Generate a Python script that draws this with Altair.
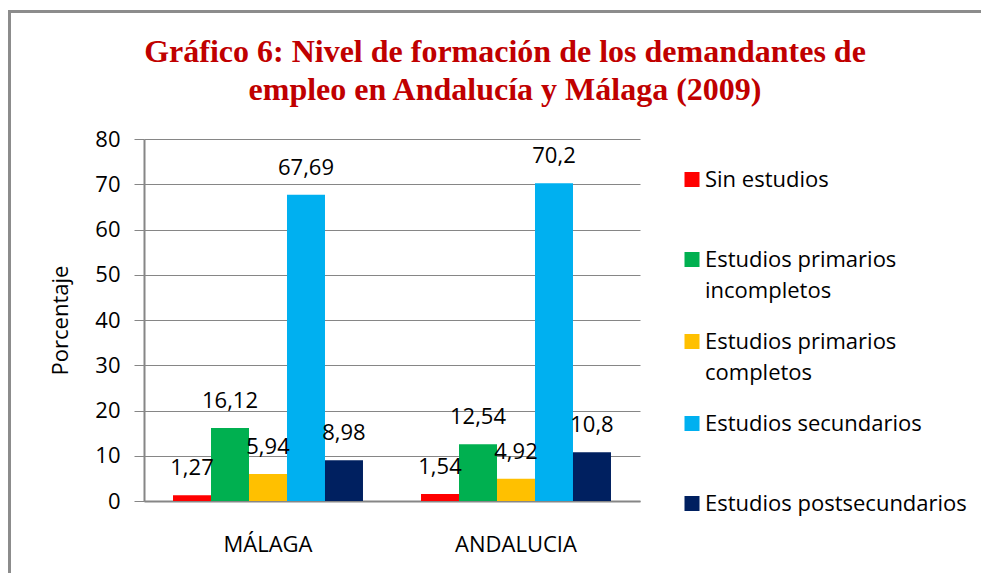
import altair as alt
import pandas as pd

# ---- data ----
regions = ["MÁLAGA", "ANDALUCIA"]
levels = [
    "Sin estudios",
    "Estudios primarios incompletos",
    "Estudios primarios completos",
    "Estudios secundarios",
    "Estudios postsecundarios",
]
malaga = [1.27, 16.12, 5.94, 67.69, 8.98]
andalucia = [1.54, 12.54, 4.92, 70.2, 10.8]
colors = ["#FF0000", "#00B050", "#FFC000", "#00B0F0", "#002060"]
y_ticks = [0, 10, 20, 30, 40, 50, 60, 70, 80]
title_lines = [
    "Gráfico 6: Nivel de formación de los demandantes de",
    "empleo en Andalucía y Málaga (2009)",
]

rows = []
for region, vals in zip(regions, [malaga, andalucia]):
    for lvl, v in zip(levels, vals):
        rows.append({"region": region, "level": lvl, "value": v,
                     "label": f"{v:g}".replace(".", ",")})
df = pd.DataFrame(rows)

FONT = "Open Sans"
FS = 22
GRAY = "#868686"
W, H = 496, 362

x_enc = alt.X(
    "region:N", sort=regions,
    scale=alt.Scale(paddingInner=0.234, paddingOuter=0.117),
    axis=alt.Axis(title=None, labelFont=FONT, labelFontSize=FS, labelColor="black",
                  labelAngle=0, labelPadding=33, ticks=False, tickSize=0,
                  domainColor=GRAY, domainWidth=2, grid=False),
)
xoff = alt.XOffset("level:N", sort=levels, scale=alt.Scale(paddingInner=0, paddingOuter=0))
y_enc = alt.Y(
    "value:Q",
    scale=alt.Scale(domain=[0, 80], nice=False),
    axis=alt.Axis(values=y_ticks, title="Porcentaje", titleFont=FONT, titleFontSize=FS,
                  titleFontWeight="normal", titleColor="black", titlePadding=22,
                  labelFont=FONT, labelFontSize=FS, labelColor="black", labelPadding=14,
                  tickSize=10, tickColor=GRAY, tickWidth=1,
                  domainColor=GRAY, domainWidth=2, gridColor=GRAY, gridWidth=1),
)

label_expr = (
    "datum.label == 'Estudios primarios incompletos' ? ['Estudios primarios', 'incompletos'] : "
    "datum.label == 'Estudios primarios completos' ? ['Estudios primarios', 'completos'] : datum.label"
)

bars = alt.Chart(df).mark_bar(size=38).encode(
    x=x_enc, xOffset=xoff, y=y_enc,
    color=alt.Color("level:N", sort=levels,
                    scale=alt.Scale(domain=levels, range=colors),
                    legend=alt.Legend(title=None, orient="none", legendX=537, legendY=0.5,
                                      symbolType="square", symbolSize=225, symbolStrokeWidth=0,
                                      labelFont=FONT, labelFontSize=FS, labelColor="black",
                                      labelBaseline="middle", labelOffset=2, labelLimit=400,
                                      labelExpr=label_expr, clipHeight=80, rowPadding=0,
                                      padding=0)),
)

texts = alt.Chart(df).mark_text(font=FONT, fontSize=FS, color="black", dy=-20,
                                baseline="alphabetic", align="center").encode(
    x=x_enc, xOffset=xoff, y=y_enc, text="label:N",
)

one = pd.DataFrame({"k": [0]})
border_top = alt.Chart(one).mark_rule(color="#8C8C8C", strokeWidth=3).encode(
    x=alt.value(-136), x2=alt.value(837), y=alt.value(-127.5))
border_left = alt.Chart(one).mark_rule(color="#8C8C8C", strokeWidth=3).encode(
    x=alt.value(-134.5), y=alt.value(-129), y2=alt.value(434))

chart = alt.layer(border_top, border_left, bars, texts).properties(
    width=W, height=H,
    title=alt.Title(text=title_lines, font="Liberation Serif", fontSize=32, fontWeight="bold",
                    color="#C00000", anchor="middle", dx=113, offset=-98, lineHeight=38),
    autosize=alt.AutoSizeParams(type="none"),
    padding={"left": 136, "top": 131, "right": 341, "bottom": 72},
).configure(style={"guide-label": {"lineHeight": 31}}).configure_view(stroke=None)

chart.save("out.html", embed_options={"renderer": "svg", "actions": False})
